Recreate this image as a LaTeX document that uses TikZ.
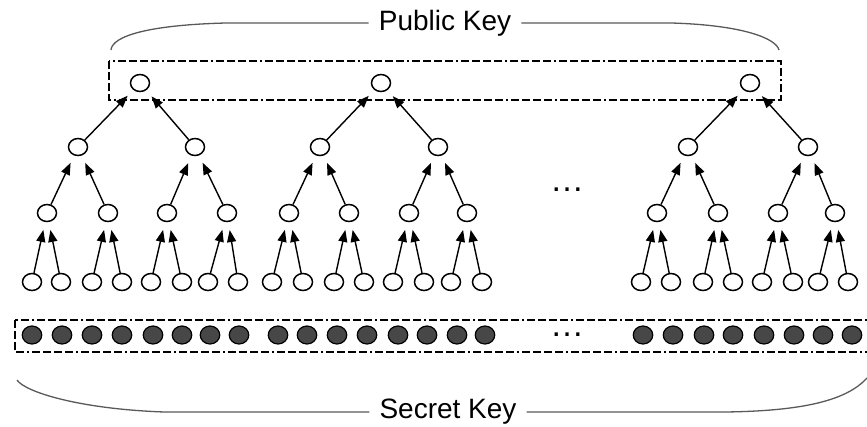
\documentclass[tikz,border=0pt]{standalone}
\usepackage{fontspec}
\setmainfont{Liberation Sans}
\usetikzlibrary{shapes.geometric, arrows.meta}

\begin{document}
\begin{tikzpicture}[
    x=1pt, y=-1pt,
    hnode/.style={ellipse, draw, line width=1.5pt, inner sep=0pt, minimum width=19pt, minimum height=17pt},
    snode/.style={ellipse, draw, line width=1.2pt, fill=black!72, inner sep=0pt, minimum width=19.5pt, minimum height=18pt},
    arrow/.style={-{Triangle[length=12pt, width=9pt]}, line width=1.4pt, shorten >=8pt},
    keybox/.style={draw, line width=1.5pt, dash pattern=on 8pt off 3pt on 8pt off 3pt on 8pt off 3pt on 8pt off 3pt on 2pt off 3pt},
    brace/.style={line width=1.3pt, black!65},
    keylabel/.style={font=\fontsize{28}{32}\selectfont, inner sep=10pt},
    more/.style={font=\fontsize{34}{40}\selectfont, anchor=base, inner sep=0pt}
]
\useasboundingbox (0,0) rectangle (867,426);

% Roots (public key)
\foreach \x [count=\i] in {140,381,750}
    \node[hnode] (r\i) at (\x,83) {};

% Second level
\foreach \x [count=\i] in {78,195,320,438,688,808}
    \node[hnode] (n\i) at (\x,147) {};

% Third level
\foreach \x [count=\i] in {47,108,167,227,289,349,409,467,657,718,778,835}
    \node[hnode] (m\i) at (\x,213) {};

% Leaves
\foreach \x [count=\i] in {32,61,92,122,151,182,208,238,272,303,334,364,393,424,451,482,641,671,703,733,762,793,818,848}
    \node[hnode] (l\i) at (\x,282) {};

% Arrows up the trees
\foreach \i in {1,...,24} {
    \pgfmathtruncatemacro{\p}{(\i+1)/2}
    \draw[arrow] (l\i) -- (m\p);
}
\foreach \i in {1,...,12} {
    \pgfmathtruncatemacro{\p}{(\i+1)/2}
    \draw[arrow] (m\i) -- (n\p);
}
\foreach \i in {1,...,6} {
    \pgfmathtruncatemacro{\p}{(\i+1)/2}
    \draw[arrow] (n\i) -- (r\p);
}

% Secret key values
\foreach \x [count=\i] in {32,62,92,122,153,182,210,239,278,307,337,367,398,427,457,485,643,673,704,733,764,794,823,852}
    \node[snode] (s\i) at (\x,335) {};

% Ellipses
\node[more] (dots1) at (567,191) {…};
\node[more] (dots2) at (567,336) {…};

% Key boxes
\draw[keybox] (109,61) rectangle (781,100);
\draw[keybox] (15,320) rectangle (872,352);

% Labels
\node[keylabel] (pubkey) at (445,23) {Public Key};
\node[keylabel] (seckey) at (448,412) {Secret Key};

\coordinate (pkleft) at (111,50);
\coordinate (pkright) at (779,50);
\coordinate (skleft) at (17,380);
\coordinate (skright) at (867,378);

% Braces
\draw[brace] (pubkey.west) -- ++(-143,0) .. controls +(-77,2) and +(1,-14) .. (pkleft);
\draw[brace] (pubkey.east) -- ++(150,0) .. controls +(70,2) and +(-3,-12) .. (pkright);
\draw[brace] (seckey.west) -- ++(-205,0) .. controls +(-85,-3) and +(8,12) .. (skleft);
\draw[brace] (seckey.east) -- ++(198,0) .. controls +(80,-1) and +(-20,22) .. (skright);

\end{tikzpicture}
\end{document}
